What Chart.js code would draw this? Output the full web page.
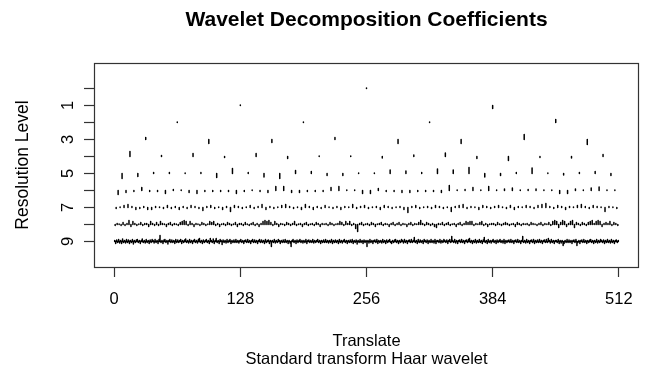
<!DOCTYPE html>
<html>
<head>
<meta charset="utf-8">
<title>Wavelet Decomposition Coefficients</title>
<script src="https://cdn.jsdelivr.net/npm/chart.js@4.4.1/dist/chart.umd.min.js"></script>
<style>
  html, body { margin: 0; padding: 0; background: #fff; }
</style>
</head>
<body>
<canvas id="chart" width="647" height="374"></canvas>
<script>
// wavelet coefficients per resolution level (level j has 2^j values),
// read off the picture; positive = mark drawn upward
const level0 = [0.5];
const level1 = [0.5, -3];
const level2 = [0.5, 0.5, 0.5, 3];
const level3 = [2, -4, -3, 2, -4, -4, 5, -5];
const level4 = [5, 1, 3, -1, 3, -2, 0.5, 0.5, -1.5, 1.5, 3.5, -2, -4, -1, -1.5, 2];
const level5 = [
  -5, -3, 1, 1, 0.5, 1, -4, 5, 1, -3.5, -5, 3, 2, -2, -2, 0.5,
  0.5, 3.5, 2.5, 1, 4.5, 3.5, 6, -3.5, -2, 1, 5.5, 0.5, -1.5, 1, 2, -2
];
const level6 = [
  -4, -2, -1, 3, -1, -1, -3, 1, 0.5, -2, -3, -1, -1, -1, -1, -3,
  -1, 0.5, -1, -2, 4, 4, -2, -2, -1, -1, -1, 3, 4, 0.5, 0.5, -3,
  -3, 2, -1, -1, -2, -2, -1, -1, -1, -2, 5, 0.5, 1, 3, 0.5, 4,
  0.5, 1.5, 2.5, 0.5, 1, 1.5, 0.5, 0.5, -3, -3, 1.5, 0.5, 2.5, 3.5, 0.5, 0.5
];
const level7 = [
  -1, 0.5, 2, 3, 1, -2, -1, 1, -2, -2, 1, 0.5, -1, 2, -1, 1,
  -2, 1, -1, 2, 1, -1, -3, 1, 2, -1, 0.5, -2, 1, -4, 2, 1,
  -1, 0.5, 2, -1, 1, 3, -2, 1, -1, 0.5, 2, 3, 1, -1, 0.5, -2,
  3, 1, -2, 1, -1, 2, 0.5, -1, 1, -2, 1, 0.5, 3, -1, 1, 2,
  -1, 0.5, 1, -2, 2, 1, -1, 0.5, 1, -2, -5, 1, 2, -1, 0.5, 1,
  -1, 2, 1, -1, 0.5, -4, 1, 2, 3, -1, 1, 0.5, -2, 2, 1, -1,
  1, 2, 0.5, -1, 2, -2, 1, 0.5, 2, 1, -1, 2, 3, 4, 1, -1,
  2, 1, -2, 1, 0.5, 2, 3, 1, -1, 2, 1, 0.5, -4, 1, 0.5, -1
];
const level8 = [
  -1, 1, 0.5, -1, 2, -1, 1, 4, -2, 3, 1, -1, 0.5, 2, -1, 1,
  1, -2, 3, 1, -1, 2, -1, 3, 1, 0.5, -2, 1, 2, -1, 1, 0.5,
  -1, 2, 3, 4, 3, -1, 3, 1, -2, 1, 0.5, -1, 2, 1, -1, 0.5,
  3, 2, 3, -1, 1, -2, 0.5, 1, -1, 2, 1, -1, 0.5, 2, -2, 1,
  1, -1, 2, 0.5, -1, 1, 2, -1, 1, -2, 1, 3, 4, 3, 4, 2,
  -1, 3, 1, -2, 1, 0.5, -1, 2, 1, -1, 1, 3, -1, 0.5, 1, -2,
  1, 2, -1, 0.5, 1, -1, 2, 1, -2, 1, 0.5, 1, -1, 2, 1, -1,
  0.5, 1, 3, 2, -1, 3, 1, 3, -1, 1, -4, -7, 1, 2, -1, 0.5,
  1, -1, 2, 1, -2, 0.5, 1, 2, -1, 1, 0.5, -2, 1, 2, -1, 1,
  2, -1, 1, 0.5, -2, 1, 2, -1, 1, 0.5, 2, 4, 1, -1, 2, 1,
  -1, 1, -2, -3, 1, 0.5, 2, -1, 1, 2, -1, 0.5, 1, -2, 1, 2,
  -1, 1, 3, 2, 3, 3, -1, 1, 0.5, 2, 3, -1, 1, -2, 0.5, 1,
  1, -1, 2, 0.5, -1, 1, 2, 1, -1, 0.5, 1, -2, 2, 1, -1, 1,
  0.5, 1, -1, 2, 1, 0.5, -1, 1, 2, -1, 1, 0.5, 2, -1, 3, 4,
  3, -3, 2, 4, 3, -2, 1, 3, 4, -3, 2, 1, -1, 2, 1, -1,
  2, 3, 4, 1, 3, 4, 3, -2, 1, 2, 1, 3, -1, 2, 1, -1
];
const level9 = [
  1, -2, 1.5, -1, 2, -1.5, 1, -2, 2.5, -1, 1, -1.5, 2, -1, 1.5, -2,
  1, -1, 2, -2.5, 1, -1, 1.5, 2, -1, 1, -2, 1, 2.5, -1, 1, -1.5,
  2, -1, 1, -2, 1.5, -1, 2, 1, -1.5, 2, -1, 1, -2, 2, 6, -1,
  1, -2, 1.5, 2, -1, 1, -2.5, 1, 2, -1, 1.5, -1, 1, -2, 2, -1,
  1.5, -1, 1, 2, -2, 1, -1, 1.5, 2.5, -1, 1, -1.5, 2, -1, 1, -2,
  1, 2, -1, 1, -1.5, 2, 3, -1, 1, -2, 1.5, -1, 1, 2, -1, 1,
  -2, 3, 1, -1, 2.5, -2, 1, 3, -1, 1, -2, 2, 1, -3, 1.5, -1,
  1, -1.5, 2, -1, 1, 2, -2, 1, -1, 1.5, -1, 2, -1, 1, -1.5, 1,
  2, -1, 1, -2, 1, 1.5, -1, 2, -1, 1, -2, 1, 2, -1, 1.5, -1,
  1, -2, 1, 2, -1, 1.5, -1, 1, -2, 2, -1, 1, 1.5, -2, 1, -5,
  1, -1, 2, -1.5, 1, -1, 2, 1, -2, 1, -1, 1.5, -1, 2, -1, 1,
  -2, 1, -1.5, -5, 1, 2, -1, 1, -2, 1.5, -1, 1, 2, -1, 1, -1.5,
  1, -1, 2, -2, 1, 1.5, -1, 1, -1, 2, -1.5, 1, -1, 1, 2, -1,
  1, -2, 1, -1, 1.5, -1, 2, -1, 1, -1.5, 1, -1, 2, -2, 1, -1,
  1.5, -1, 1, -2, 2, -1, 1, -1.5, 1, 2, -1, 1, -2, 1, -1, 1.5,
  -1, 2, -2, 1, -1, 1.5, -2.5, 1, -1, 2, -1, 1, -2, 1.5, -1, 1,
  -5, 1, -1.5, 2, -1, 1, -2, 1, 1.5, -1, 2, -2, 1, -1, 1, -1.5,
  2, -1, 1, -2, 1.5, -1, 1, 2, -1, -2, 1, -1, 1.5, 2, -1, 1,
  -2, 1, -1, 2, 1, -1.5, 2, -1, 1, -2, 1, 1.5, -1, 2, -1, 1,
  4, -1, 1, -2, 2, -1, 1.5, -1, 1, -2, 2, 1, -1, 1.5, -2, 1,
  -1, 2, -1, 1, -1.5, 2, -2, 1, 1, -1, 2, -1.5, 1, -1, 2, 1,
  -1, 1.5, -2, 1, 2, -1, 5, 1, -1, 2, -1.5, 1, -2, 1, 1.5, -1,
  2, -1, 1, -2, 1, 1.5, -1, 2, 3, -1, 1, -2, 1, -1, 2, -1.5,
  1, -1, 2, -1, 1, -2, 1.5, 4, -1, 1, -2, 2, -1, 1, -1.5, 1,
  2, -1, 1, -2, 1.5, -1, 1, 2, -1, 1, -1.5, 2, -2, 1, -1, 1,
  1.5, -1, 2, -1, 1, -2, 1, 1.5, -1, 2, -1, 1, -2, 1, 5, -1,
  1, -1.5, 2, -1, 1, -2, 1, 1.5, -1, 2, -2, 1, -1, 1.5, -1, 2,
  -1, 1, -2, 1, 1.5, -1, 2, -1, 3, 1, -1.5, 2, -1, 1, -2, 1,
  1, -1, 2, -2, 1, -1.5, 1, -4, -2, 1, -1, 2, -1, 1.5, -1, 1,
  -2, 1, 1.5, -1, 2, -4, -1, 1, -2, 1, 1.5, -1, 2, -1, 1, -2,
  1, -1, 1.5, 2, -1, 1, -2, 1, -1, 2, -1.5, 1, -1, 2, 1, -1,
  1.5, -2, 1, -1, 2, -1, 1, -1.5, 2, -1, 1, -2, 1, 1.5, -1, 1
];
const levelCoefs = [level0, level1, level2, level3, level4, level5, level6, level7, level8, level9];

// axes
const translateMax = 512;
const xTicks = [0, 128, 256, 384, 512];
const levelTicks = [0, 1, 2, 3, 4, 5, 6, 7, 8, 9];
const levelLabels = [1, 3, 5, 7, 9];

const coefScale = 1 / 17;   // coefficient -> resolution-level units
const xPad = translateMax * 0.04;

Chart.defaults.font.family = '"Liberation Sans", Arial, sans-serif';
Chart.defaults.color = '#000';

// each coefficient becomes a short vertical stroke, strokes split by null gaps
function levelPoints(vals, level) {
  const pts = [];
  const step = translateMax / vals.length;
  vals.forEach((v, k) => {
    const x = (k + 0.5) * step;
    pts.push({ x, y: level }, { x, y: level - v * coefScale }, { x, y: null });
  });
  return pts;
}

const datasets = levelCoefs.map((vals, j) => ({
  label: "Level " + j,
  data: levelPoints(vals, j),
  showLine: true,
  spanGaps: false,
  borderColor: "#000",
  borderWidth: 1.5,
  borderCapStyle: "round",
  pointRadius: 0
}));

// R-style box round the plot region
const boxPlugin = {
  id: "plotBox",
  afterDraw(chart) {
    const { ctx, chartArea: a } = chart;
    ctx.save();
    ctx.strokeStyle = "#333";
    ctx.lineWidth = 1.2;
    ctx.strokeRect(a.left + 0.5, a.top + 0.5, a.right - a.left - 1, a.bottom - a.top);
    ctx.restore();
  }
};

new Chart(document.getElementById("chart").getContext("2d"), {
  type: "scatter",
  data: { datasets },
  plugins: [boxPlugin],
  options: {
    responsive: false,
    animation: false,
    events: [],
    layout: { padding: { left: 0, right: 8, top: 0, bottom: 0 } },
    plugins: {
      legend: { display: false },
      tooltip: { enabled: false },
      title: {
        display: true,
        text: "Wavelet Decomposition Coefficients",
        fullSize: false,
        color: "#000",
        font: { size: 21, weight: "bold", lineHeight: 1.2 },
        padding: { top: 8, bottom: 29.8 }
      }
    },
    scales: {
      x: {
        type: "linear",
        min: -xPad,
        max: translateMax + xPad,
        afterBuildTicks: s => { s.ticks = xTicks.map(v => ({ value: v })); },
        afterFit: s => { s.height = 107; },
        border: { display: false },
        grid: { drawOnChartArea: false, drawTicks: true, tickLength: 10, tickColor: "#333", tickWidth: 1.2 },
        ticks: { autoSkip: false, maxRotation: 0, padding: 13, font: { size: 16.5 }, color: "#000" },
        title: {
          display: true,
          text: ["Translate", "Standard transform Haar wavelet"],
          color: "#000",
          font: { size: 16.5, lineHeight: 1.1 },
          padding: { top: 0, bottom: 5 }
        }
      },
      y: {
        type: "linear",
        min: -1.5,
        max: 10.5,
        reverse: true,
        afterBuildTicks: s => { s.ticks = levelTicks.map(v => ({ value: v })); },
        afterFit: s => { s.width = 94; },
        border: { display: false },
        grid: { drawOnChartArea: false, drawTicks: true, tickLength: 10, tickColor: "#333", tickWidth: 1.2 },
        ticks: {
          autoSkip: false,
          minRotation: 90,
          maxRotation: 90,
          crossAlign: "center",
          padding: 11,
          font: { size: 16.5 },
          color: "#000",
          callback: v => levelLabels.includes(v) ? String(v) : ""
        },
        title: {
          display: true,
          text: "Resolution Level",
          color: "#000",
          font: { size: 17.5 },
          padding: { top: 13, bottom: 0 },
          align: "center"
        }
      }
    }
  }
});
</script>
</body>
</html>
